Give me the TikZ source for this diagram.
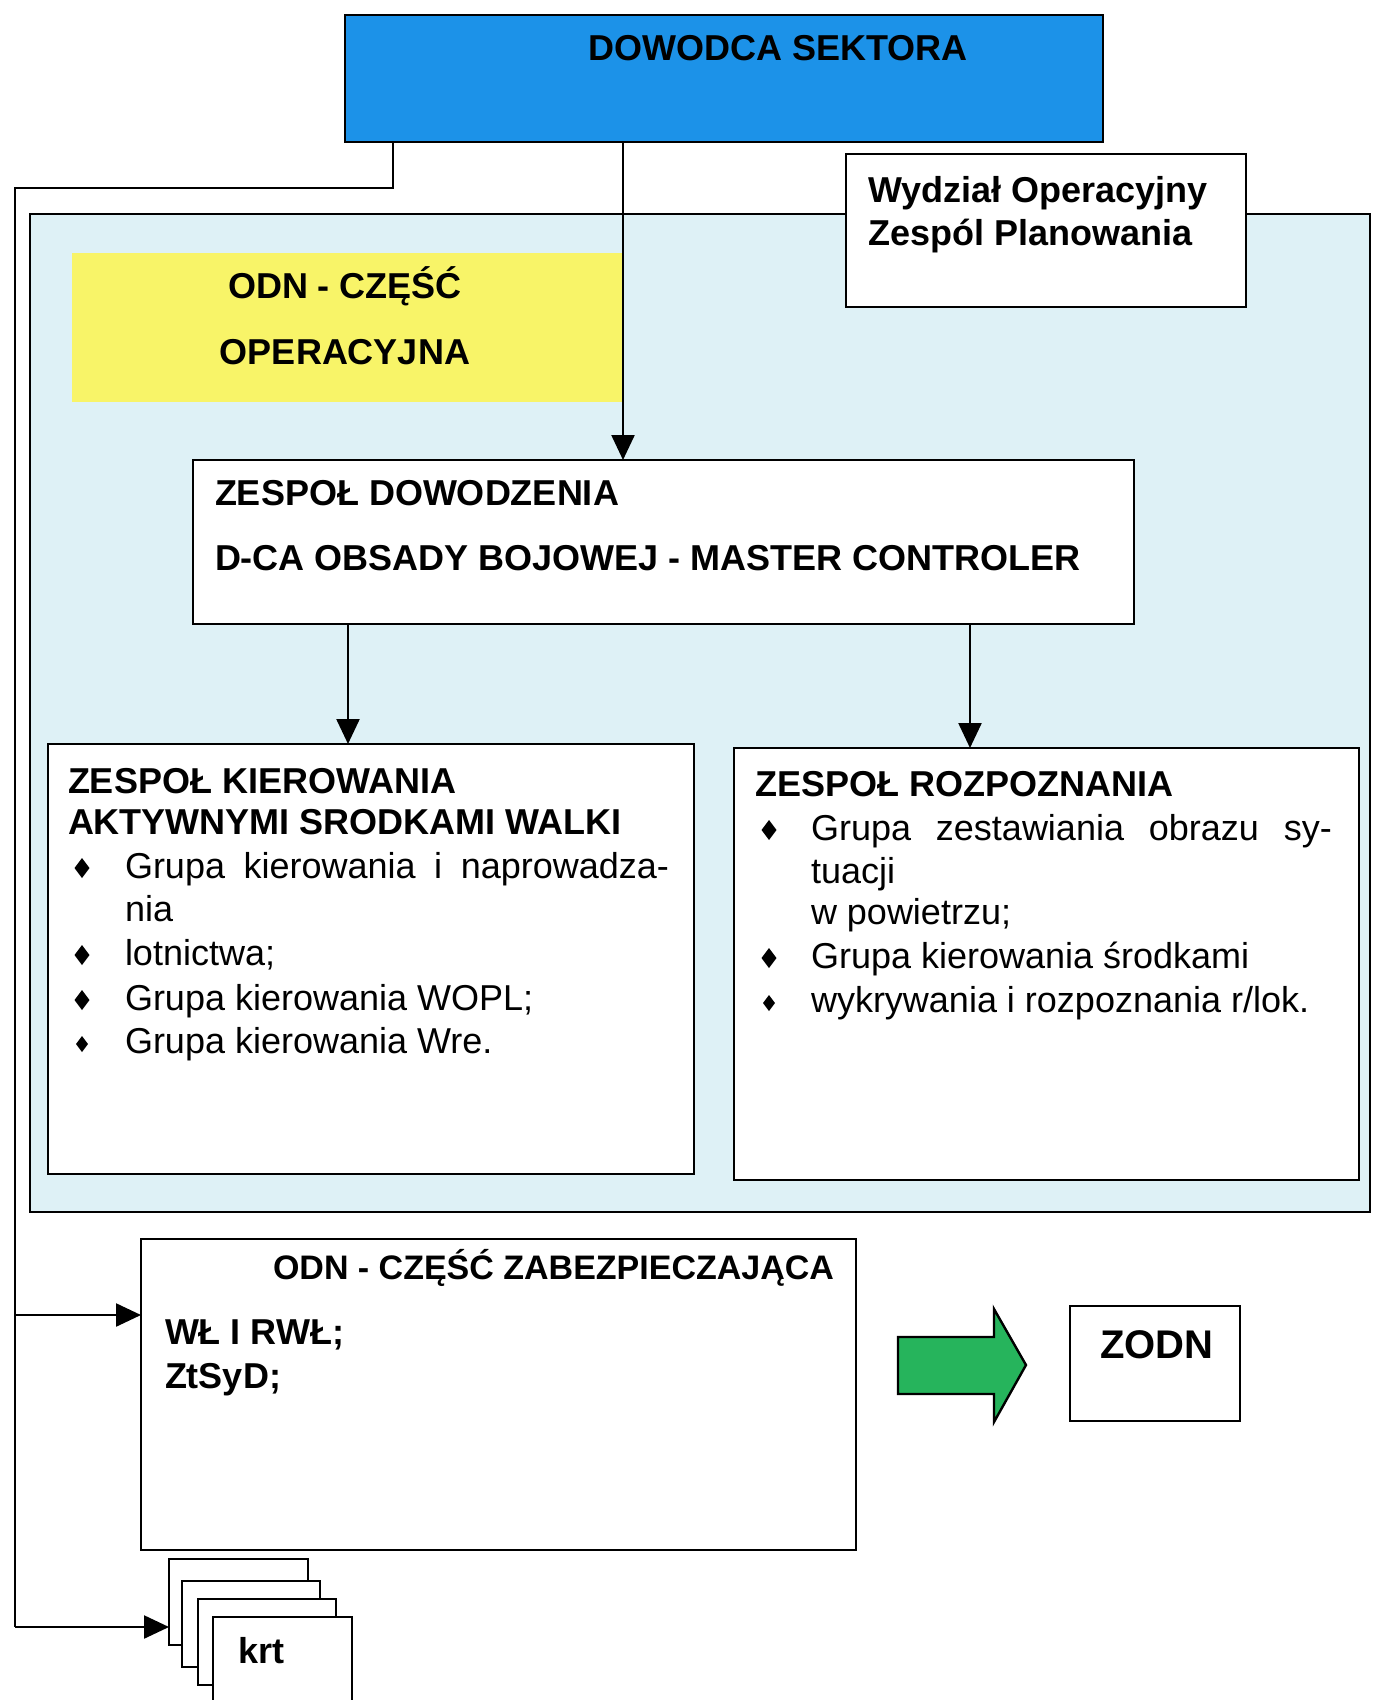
\documentclass[tikz,border=0pt]{standalone}
\usepackage{fontspec}
\setmainfont{Liberation Sans}
\usetikzlibrary{arrows.meta}
\definecolor{cmdblue}{RGB}{28,146,232}
\definecolor{odnyellow}{RGB}{248,244,104}
\definecolor{panelblue}{RGB}{222,241,246}
\definecolor{gogreen}{RGB}{38,180,92}
\begin{document}
\begin{tikzpicture}[x=1pt,y=-1pt,
  frame/.style={draw=black, line width=2.8pt, inner sep=0pt, outer sep=0pt, anchor=north west, fill=white},
  txt/.style={inner sep=0pt, outer sep=0pt, anchor=base west, font=\fontsize{36}{43}\selectfont},
  btxt/.style={txt, font=\fontsize{36}{43}\selectfont\bfseries},
  link/.style={line width=2.4pt},
  arr/.style={link, -{Triangle[length=25pt,width=23pt]}},
  dmd/.pic={\fill (0,-10) -- (7.5,0) -- (0,10) -- (-7.5,0) -- cycle;}
]
\useasboundingbox (0,0) rectangle (1385,1700);
\fill[white] (0,0) rectangle (1385,1700);

% operational part panel
\node[frame, fill=panelblue, minimum width=1340pt, minimum height=998pt] (panel) at (30,214) {};
\node[inner sep=0pt, outer sep=0pt, anchor=north west, fill=odnyellow, minimum width=550pt, minimum height=149pt] (yel) at (72,253) {};
\node[frame, minimum width=400pt, minimum height=153pt] (wyd) at (846,154) {};
\node[frame, fill=cmdblue, minimum width=758pt, minimum height=127pt] (dow) at (345,15) {};
\node[frame, minimum width=941pt, minimum height=164pt] (zd) at (193,460) {};
\node[frame, minimum width=646pt, minimum height=430pt] (kier) at (48,744) {};
\node[frame, minimum width=625pt, minimum height=432pt] (rozp) at (734,748) {};

% supporting part
\node[frame, minimum width=715pt, minimum height=311pt] (zab) at (141,1239) {};
\node[frame, minimum width=170pt, minimum height=115pt] (zodn) at (1070,1306) {};
\node[frame, minimum width=139pt, minimum height=86pt] (k1) at (169,1559) {};
\node[frame, minimum width=138pt, minimum height=86pt] (k2) at (182,1581) {};
\node[frame, minimum width=138pt, minimum height=86pt] (k3) at (198,1599) {};
\node[frame, minimum width=139pt, minimum height=100pt] (k4) at (213,1617) {};

% green block arrow
\draw[line width=2.4pt, fill=gogreen, line join=miter]
  (898,1337) -- (994,1337) -- (994,1309) -- (1026,1365) -- (994,1422) -- (994,1394) -- (898,1394) -- cycle;

% connectors
\coordinate (lt) at (393,188);
\coordinate (lb) at (15,188);
\coordinate (ja) at (15,1315);
\coordinate (jb) at (15,1627);
\draw[link] (dow.south -| lt) -- (lt) -- (lb) -- (jb);
\draw[arr] (ja) -- (ja -| zab.west);
\draw[arr] (jb) -- (jb -| k1.west);
\coordinate (mx) at (623,0);
\coordinate (ml) at (348,0);
\coordinate (mr) at (970,0);
\draw[arr] (dow.south -| mx) -- (zd.north -| mx);
\draw[arr] (zd.south -| ml) -- (kier.north -| ml);
\draw[arr] (zd.south -| mr) -- (rozp.north -| mr);

% texts
\node[btxt, anchor=base] (dowt) at (778,60) {DOWODCA SEKTORA};
\node[btxt] (wyd1) at (868,202) {Wydział Operacyjny};
\node[btxt] (wyd2) at (868,245) {Zespól Planowania};
\node[btxt, anchor=base] (yel1) at (345,298) {ODN - CZĘŚĆ};
\node[btxt, anchor=base] (yel2) at (345,364) {OPERACYJNA};
\node[btxt] (zd1) at (215,505) {ZESPOŁ DOWODZENIA};
\node[btxt] (zd2) at (215,570) {D-CA OBSADY BOJOWEJ - MASTER CONTROLER};

\node[btxt] (kt1) at (68,793) {ZESPOŁ KIEROWANIA};
\node[btxt] (kt2) at (68,834) {AKTYWNYMI SRODKAMI WALKI};
\node[txt] (ki1) at (125,878) {\makebox[544pt][s]{Grupa kierowania i naprowadza-}};
\node[txt] (ki2) at (125,921) {nia};
\node[txt] (ki3) at (125,965) {lotnictwa;};
\node[txt] (ki4) at (125,1010) {Grupa kierowania WOPL;};
\node[txt] (ki5) at (125,1053) {Grupa kierowania Wre.};
\pic at (82,868) {dmd};
\pic at (82,955) {dmd};
\pic at (82,1000) {dmd};
\pic[scale=0.8] at (82,1044) {dmd};

\node[btxt] (rt1) at (755,796) {ZESPOŁ ROZPOZNANIA};
\node[txt] (ri1) at (811,840) {\makebox[521pt][s]{Grupa zestawiania obrazu sy-}};
\node[txt] (ri2) at (811,883) {tuacji};
\node[txt] (ri3) at (811,924) {w powietrzu;};
\node[txt] (ri4) at (811,968) {Grupa kierowania środkami};
\node[txt] (ri5) at (811,1012) {wykrywania i rozpoznania r/lok.};
\pic at (769,830) {dmd};
\pic at (769,958) {dmd};
\pic[scale=0.8] at (769,1003) {dmd};

\node[txt, anchor=base west, font=\fontsize{34}{40}\selectfont\bfseries] (zabt) at (273,1279) {ODN - CZĘŚĆ ZABEZPIECZAJĄCA};
\node[btxt] (zab1) at (165,1344) {WŁ I RWŁ;};
\node[btxt] (zab2) at (165,1388) {ZtSyD;};
\node[txt, anchor=base, font=\fontsize{40}{48}\selectfont\bfseries] (zodnt) at (1157,1358) {ZODN};
\node[btxt] (krtt) at (238,1663) {krt};
\end{tikzpicture}
\end{document}
